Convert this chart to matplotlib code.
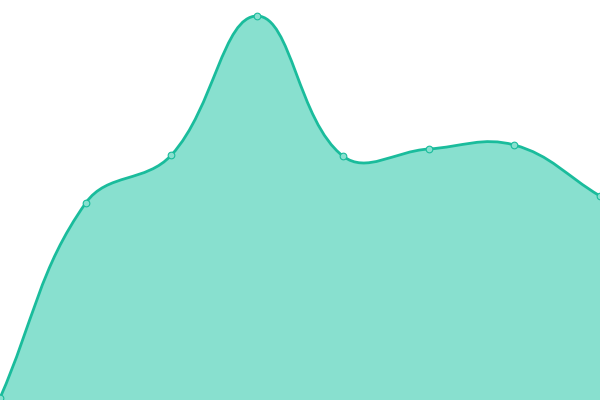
import numpy as np
import matplotlib
matplotlib.use("Agg")
import matplotlib.pyplot as plt
from matplotlib.path import Path
from matplotlib.patches import PathPatch

# data (y values, axis 0..400)
labels = ["1", "2", "3", "4", "5", "6", "7", "8"]
values = [2, 197, 245, 384, 244, 251, 255, 204]

LINE = "#1abc9c"
FILL = "#88e0cf"
TENSION = 0.4

fig = plt.figure(figsize=(6, 4), dpi=100)
ax = fig.add_axes([0, 0, 1, 1])
ax.set_xlim(0, len(values) - 1)
ax.set_ylim(0, 400)
ax.axis("off")

# spline control points, computed in pixel space like chart.js does
pts = ax.transData.transform(np.column_stack([np.arange(len(values)), values]))
n = len(pts)
ctrl_prev, ctrl_next = [], []
for i in range(n):
    p0 = pts[i - 1] if i > 0 else pts[i]
    p1 = pts[i]
    p2 = pts[i + 1] if i < n - 1 else pts[i]
    d01 = np.hypot(*(p1 - p0))
    d12 = np.hypot(*(p2 - p1))
    tot = d01 + d12
    s01 = d01 / tot if tot else 0
    s12 = d12 / tot if tot else 0
    ctrl_prev.append(p1 - TENSION * s01 * (p2 - p0))
    ctrl_next.append(p1 + TENSION * s12 * (p2 - p0))

# keep control points inside the plot area
x0, y0 = ax.transAxes.transform((0, 0))
x1, y1 = ax.transAxes.transform((1, 1))
ctrl_prev = [np.clip(c, [x0, y0], [x1, y1]) for c in ctrl_prev]
ctrl_next = [np.clip(c, [x0, y0], [x1, y1]) for c in ctrl_next]

verts = [pts[0]]
codes = [Path.MOVETO]
for i in range(n - 1):
    verts += [ctrl_next[i], ctrl_prev[i + 1], pts[i + 1]]
    codes += [Path.CURVE4] * 3
inv = ax.transData.inverted()
verts = inv.transform(np.array(verts))

fill_verts = np.vstack([verts, [[n - 1, 0], [0, 0], verts[0]]])
fill_codes = codes + [Path.LINETO, Path.LINETO, Path.CLOSEPOLY]
ax.add_patch(PathPatch(Path(fill_verts, fill_codes), facecolor=FILL,
                       edgecolor="none", zorder=1))
ax.add_patch(PathPatch(Path(verts, codes), facecolor="none", edgecolor=LINE,
                       linewidth=2.0, zorder=2, capstyle="round"))

ax.plot(range(n), values, linestyle="none", marker="o", markersize=4.8,
        markerfacecolor=FILL, markeredgecolor=LINE, markeredgewidth=0.8,
        zorder=3, clip_on=True)

fig.savefig("out.png", dpi=100)
